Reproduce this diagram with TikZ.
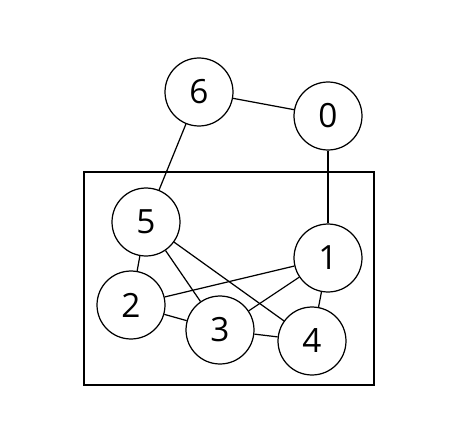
\documentclass[tikz,border=0pt]{standalone}
\usepackage{fontspec}
\setmainfont{Open Sans}
\usetikzlibrary{positioning}

\begin{document}
\begin{tikzpicture}[
x=0.02cm, y=-0.02cm,
vertex/.style={circle, draw, line width=0.7pt, fill=white, minimum size=1.36cm, inner sep=0pt, font=\fontsize{19}{22}\selectfont},
edge/.style={line width=0.7pt},
]
\useasboundingbox (0,0) rectangle (450,426);

% Cluster box
\draw[line width=0.7pt] (84,172) rectangle (374,385);

% Vertices
\node[vertex] (v6) at (199,92) {6};
\node[vertex] (v0) at (328,116) {0};
\node[vertex] (v5) at (146,222) {5};
\node[vertex] (v1) at (328,258) {1};
\node[vertex] (v2) at (131,305) {2};
\node[vertex] (v3) at (220,330) {3};
\node[vertex] (v4) at (312,341) {4};

% Edges
\draw[edge] (v6) -- (v0);
\draw[edge] (v6) -- (v5);
\draw[edge] (v0) -- (v1);
\draw[edge] (v5) -- (v2);
\draw[edge] (v5) -- (v3);
\draw[edge] (v5) -- (v4);
\draw[edge] (v1) -- (v2);
\draw[edge] (v1) -- (v3);
\draw[edge] (v1) -- (v4);
\draw[edge] (v2) -- (v3);
\draw[edge] (v3) -- (v4);

\end{tikzpicture}
\end{document}
